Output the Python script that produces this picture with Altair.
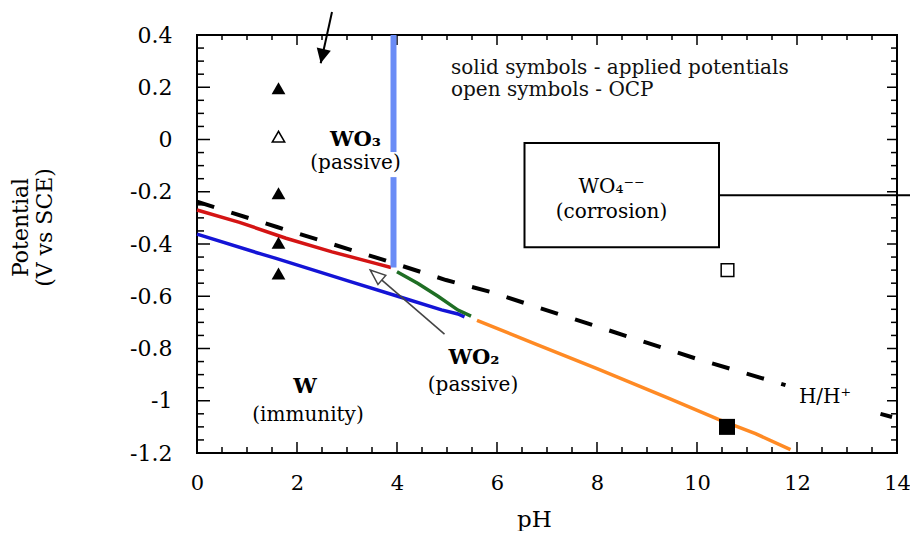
import altair as alt
import pandas as pd

W, H = 700, 418
FONT = "DejaVu Serif"
XS = alt.Scale(domain=[0, 14], nice=False, zero=False)
YS = alt.Scale(domain=[-1.2, 0.4], nice=False, zero=False)

# ---------------- data ----------------
x_ticks = [0, 2, 4, 6, 8, 10, 12, 14]
x_minor = [0.5, 1, 1.5, 2.5, 3, 3.5, 4.5, 5, 5.5, 6.5, 7, 7.5, 8.5, 9, 9.5,
           10.5, 11, 11.5, 12.5, 13, 13.5]
y_ticks = [-1.2, -1.0, -0.8, -0.6, -0.4, -0.2, 0.0, 0.2, 0.4]
y_minor = [-1.15, -1.1, -1.05, -0.95, -0.9, -0.85, -0.75, -0.7, -0.65,
           -0.55, -0.5, -0.45, -0.35, -0.3, -0.25, -0.15, -0.1, -0.05,
           0.05, 0.1, 0.15, 0.25, 0.3, 0.35]

red_ph = [0, 0.85, 1.78, 2.7, 3.57, 3.88]
red_e = [-0.27, -0.317, -0.378, -0.43, -0.474, -0.49]
blue_ph = [0, 1.31, 1.58, 3.1, 4.03, 4.89, 5.22, 5.35]
blue_e = [-0.362, -0.44, -0.455, -0.546, -0.601, -0.652, -0.668, -0.679]
green_ph = [4.0, 4.42, 4.82, 5.22, 5.48]
green_e = [-0.506, -0.551, -0.6, -0.653, -0.676]
orange_ph = [5.6, 6.8, 8.0, 9.45, 10.44, 11.17, 11.87]
orange_e = [-0.692, -0.785, -0.877, -0.992, -1.072, -1.126, -1.187]
hh_ph = [0, 1.6, 3.7, 4.98, 5.86, 10.0, 11.77]
hh_e = [-0.238, -0.335, -0.459, -0.538, -0.583, -0.84, -0.94]
hh2_ph = [13.67, 13.9]
hh2_e = [-1.05, -1.062]

wo3_ph = [3.93, 3.93]
wo3_top = [0.4, -0.144]
wo3_bot = [-0.048, -0.49]

tri_ph = [1.63, 1.63, 1.63, 1.63]
tri_e = [0.196, -0.206, -0.395, -0.513]
otri_ph = [1.63]
otri_e = [0.011]
sq_ph = [10.6]
sq_e = [-1.1]
osq_ph = [10.61]
osq_e = [-0.5]

box_ph = [6.55]
box_ph2 = [10.44]
box_e = [-0.013]
box_e2 = [-0.412]
lead_ph = [10.44]
lead_ph2 = [14.3]
lead_e = [-0.213]

arrow1_ph = [2.70, 2.474]
arrow1_e = [0.488, 0.292]
arrow2_ph = [4.95, 3.466]
arrow2_e = [-0.745, -0.5]

bold_lbl = ["WO\u2083", "W", "WO\u2082"]
bold_ph = [3.17, 2.16, 5.54]
bold_e = [0.0, -0.947, -0.837]
norm_lbl = ["(passive)", "(immunity)", "(passive)", "WO\u2084\u207b\u207b",
            "(corrosion)", "H/H\u207a"]
norm_ph = [3.17, 2.22, 5.52, 8.29, 8.29, 12.56]
norm_e = [-0.09, -1.055, -0.94, -0.182, -0.278, -0.985]
note_lbl = ["solid symbols - applied potentials", "open symbols - OCP"]
note_ph = [5.08, 5.08]
note_e = [0.275, 0.188]

# ---------------- axes ----------------
label_expr = ("datum.value < 0 ? '-' + format(-datum.value, '~g') "
              ": format(datum.value, '~g')")

x_axis = alt.Axis(values=x_ticks, ticks=False, domain=False, grid=False,
                  labelFont=FONT, labelFontSize=21, labelColor="black",
                  labelPadding=19, labelExpr=label_expr, labelFlush=False,
                  title="pH", titleFont=FONT, titleFontSize=23,
                  titleFontWeight="normal", titleColor="black",
                  titleX=337, titleY=66, titleAlign="center",
                  titleBaseline="middle")
y_axis = alt.Axis(values=y_ticks, ticks=False, domain=False, grid=False,
                  labelFont=FONT, labelFontSize=22, labelColor="black",
                  labelPadding=25, labelExpr=label_expr, labelFlush=False,
                  title=["Potential", "(V vs SCE)"], titleFont=FONT,
                  titleFontSize=22, titleFontWeight="normal",
                  titleColor="black", titleAngle=270, titleX=-177,
                  titleY=192, titleAlign="center", titleBaseline="middle",
                  titleLineHeight=24)


def xq(f="ph"):
    return alt.X(f"{f}:Q", scale=XS, axis=x_axis)


def yq(f="e"):
    return alt.Y(f"{f}:Q", scale=YS, axis=y_axis)


def df(**kw):
    return pd.DataFrame(kw)


layers = []

# ticks (inward, all four sides)
tx = df(ph=x_ticks)
txm = df(ph=x_minor)
ty = df(e=y_ticks)
tym = df(e=y_minor)
tick_style = dict(color="black", strokeWidth=1.5)
layers += [
    alt.Chart(tx).mark_rule(**tick_style).encode(x=xq(), y=alt.value(H), y2=alt.value(H - 11)),
    alt.Chart(txm).mark_rule(**tick_style).encode(x=xq(), y=alt.value(H), y2=alt.value(H - 6)),
    alt.Chart(tx).mark_rule(**tick_style).encode(x=xq(), y=alt.value(0), y2=alt.value(10)),
    alt.Chart(txm).mark_rule(**tick_style).encode(x=xq(), y=alt.value(0), y2=alt.value(5)),
    alt.Chart(ty).mark_rule(**tick_style).encode(y=yq(), x=alt.value(0), x2=alt.value(13)),
    alt.Chart(tym).mark_rule(**tick_style).encode(y=yq(), x=alt.value(0), x2=alt.value(7)),
    alt.Chart(ty).mark_rule(**tick_style).encode(y=yq(), x=alt.value(W), x2=alt.value(W - 10)),
    alt.Chart(tym).mark_rule(**tick_style).encode(y=yq(), x=alt.value(W), x2=alt.value(W - 6)),
]


def curve(ph, e, color, width, **extra):
    return alt.Chart(df(ph=ph, e=e)).mark_line(
        color=color, strokeWidth=width, **extra).encode(
        x=xq(), y=yq(), order=alt.Order("ph:Q"))


layers += [
    curve(hh_ph, hh_e, "black", 4, strokeDash=[18, 18], strokeCap="butt"),
    curve(hh2_ph, hh2_e, "black", 4, strokeCap="butt"),
    curve(red_ph, red_e, "#d41414", 3.5),
    curve(blue_ph, blue_e, "#1414d6", 3.5),
    curve(green_ph, green_e, "#1f6e24", 3.5),
    curve(orange_ph, orange_e, "#ff8a24", 3.5),
]

# WO3 vertical boundary (two pieces around the label)
layers.append(
    alt.Chart(df(ph=wo3_ph, e=wo3_top, e2=wo3_bot)).mark_rule(
        color="#6a8cf6", strokeWidth=6, strokeCap="butt").encode(
        x=xq(), y=yq(), y2="e2:Q")
)

# WO4 box and leader line
layers.append(
    alt.Chart(df(ph=box_ph, ph2=box_ph2, e=box_e, e2=box_e2)).mark_rect(
        fill="white", stroke="black", strokeWidth=2).encode(
        x=xq(), x2="ph2:Q", y=yq(), y2="e2:Q")
)
layers.append(
    alt.Chart(df(ph=lead_ph, ph2=lead_ph2, e=lead_e)).mark_rule(
        color="black", strokeWidth=2).encode(x=xq(), x2="ph2:Q", y=yq())
)

# arrows
layers.append(
    alt.Chart(df(ph=arrow1_ph, e=arrow1_e)).mark_line(
        color="black", strokeWidth=2).encode(x=xq(), y=yq())
)
layers.append(
    alt.Chart(df(ph=arrow1_ph[1:], e=arrow1_e[1:])).mark_point(
        shape="M0,0L-0.9,1.8L0.9,1.8Z", filled=True, color="black",
        size=256, angle=192.4, opacity=1).encode(x=xq(), y=yq())
)
layers.append(
    alt.Chart(df(ph=arrow2_ph, e=arrow2_e)).mark_line(
        color="#444444", strokeWidth=1.6).encode(x=xq(), y=yq())
)
layers.append(
    alt.Chart(df(ph=arrow2_ph[1:], e=arrow2_e[1:])).mark_point(
        shape="M0,0L-0.75,1.9L0.75,1.9Z", filled=False, fill="white",
        stroke="#444444", strokeWidth=1.5, size=256, angle=310.4,
        opacity=1).encode(x=xq(), y=yq())
)

# symbols
layers += [
    alt.Chart(df(ph=tri_ph, e=tri_e)).mark_point(
        shape="triangle-up", filled=True, color="black", size=190,
        opacity=1).encode(x=xq(), y=yq()),
    alt.Chart(df(ph=otri_ph, e=otri_e)).mark_point(
        shape="triangle-up", filled=False, color="black", size=150,
        strokeWidth=1.6, opacity=1).encode(x=xq(), y=yq()),
    alt.Chart(df(ph=sq_ph, e=sq_e)).mark_point(
        shape="square", filled=True, color="black", size=256,
        opacity=1).encode(x=xq(), y=yq()),
    alt.Chart(df(ph=osq_ph, e=osq_e)).mark_point(
        shape="square", filled=False, color="black", size=160,
        strokeWidth=1.5, opacity=1).encode(x=xq(), y=yq()),
]

# texts
layers += [
    alt.Chart(df(ph=bold_ph, e=bold_e, t=bold_lbl)).mark_text(
        font=FONT, fontSize=21, fontWeight="bold", align="center",
        baseline="middle", color="black").encode(x=xq(), y=yq(), text="t:N"),
    alt.Chart(df(ph=norm_ph, e=norm_e, t=norm_lbl)).mark_text(
        font=FONT, fontSize=20, align="center", baseline="middle",
        color="black").encode(x=xq(), y=yq(), text="t:N"),
    alt.Chart(df(ph=note_ph, e=note_e, t=note_lbl)).mark_text(
        font=FONT, fontSize=20, align="left", baseline="middle",
        color="#111111").encode(x=xq(), y=yq(), text="t:N"),
]

chart = alt.layer(*layers).properties(
    width=W, height=H,
    autosize=alt.AutoSizeParams(type="none"),
    padding={"left": 189, "top": 27, "right": 13, "bottom": 78},
    background="white",
).configure_view(stroke="black", strokeWidth=2)

chart.save("out.html", embed_options={"renderer": "svg", "actions": False})
